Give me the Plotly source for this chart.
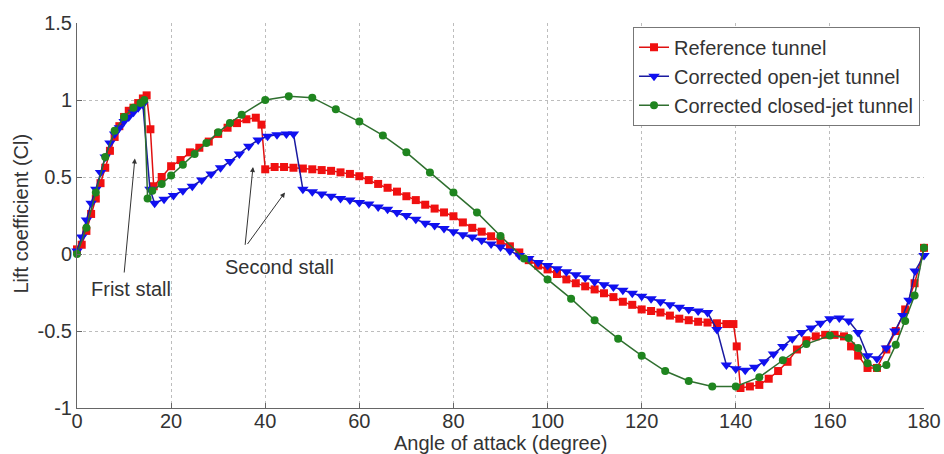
import plotly.graph_objects as go

# ---------------- data ----------------
ref_x = [0, 1, 2, 3, 4, 5, 6, 7, 8, 9, 10, 11, 12, 13, 14, 14.8, 15.6, 16.3,
         18, 20, 22, 24, 26, 28, 30, 32, 34, 36, 38, 39.2,
         40, 42, 44, 46, 48, 50, 52, 54, 56, 58, 60, 62, 64, 66, 68, 70, 72, 74, 76, 78,
         80, 82, 84, 86, 88, 90, 92, 94, 96, 98, 100, 102, 104, 106, 108, 110, 112, 114,
         116, 118, 120, 122, 124, 126, 128, 130, 132, 134, 136, 138, 139.5, 140.2, 141,
         143, 145, 147, 149, 151, 153, 155, 157, 159, 161, 163, 164.5, 166, 168, 170,
         172, 174, 176, 178, 180]
ref_y = [0.03, 0.06, 0.15, 0.26, 0.36, 0.46, 0.56, 0.67, 0.76, 0.83, 0.89, 0.93, 0.95, 0.98, 1.01, 1.03, 0.81, 0.44,
         0.50, 0.57, 0.61, 0.66, 0.69, 0.73, 0.78, 0.82, 0.85, 0.875, 0.885, 0.84,
         0.55, 0.565, 0.565, 0.56, 0.555, 0.55, 0.545, 0.54, 0.53, 0.52, 0.505, 0.48, 0.455, 0.43, 0.405, 0.375, 0.35, 0.32, 0.295, 0.27,
         0.245, 0.205, 0.17, 0.145, 0.115, 0.085, 0.05, 0.01, -0.04, -0.075, -0.10, -0.13, -0.165, -0.19, -0.21, -0.23, -0.255, -0.28,
         -0.31, -0.33, -0.36, -0.37, -0.38, -0.40, -0.42, -0.43, -0.44, -0.445, -0.45, -0.455, -0.455, -0.60, -0.87,
         -0.86, -0.85, -0.81, -0.76, -0.70, -0.62, -0.56, -0.535, -0.525, -0.525, -0.535, -0.60, -0.66, -0.74, -0.74,
         -0.62, -0.50, -0.36, -0.19, 0.04]

open_x = [0, 1, 2, 3, 4, 5, 6, 7, 8, 9, 10, 11, 12, 13, 14, 15.5, 16.5,
          18.5, 20.5, 22.5, 24.5, 26.5, 28.5, 30.5, 32.5, 34.5, 36.5, 38.5, 40.5, 42.5, 44.5, 46,
          48, 50, 52, 54, 56, 58, 60, 62, 64, 66, 68, 70, 72, 74, 76, 78, 80, 82, 84, 86, 88, 90,
          92, 94, 96, 98, 100, 102, 104, 106, 108, 110, 112, 114, 116, 118, 120, 122, 124, 126,
          128, 130, 132, 134, 136, 138, 140, 142, 144, 146, 148, 150, 152, 154, 156, 158, 160,
          162, 164, 166, 168, 170, 172, 173.8, 175.5, 176.8, 178.1, 180]
open_y = [0.02, 0.11, 0.22, 0.33, 0.42, 0.53, 0.63, 0.72, 0.78, 0.82, 0.86, 0.89, 0.92, 0.95, 0.97, 0.42, 0.33,
          0.355, 0.38, 0.41, 0.44, 0.48, 0.52, 0.56, 0.60, 0.65, 0.70, 0.74, 0.765, 0.775, 0.78, 0.78,
          0.42, 0.405, 0.39, 0.375, 0.36, 0.35, 0.335, 0.325, 0.305, 0.29, 0.27, 0.25, 0.225, 0.20, 0.185, 0.165, 0.145, 0.125, 0.11, 0.09, 0.065, 0.045,
          0.02, -0.01, -0.03, -0.055, -0.075, -0.095, -0.115, -0.135, -0.155, -0.18, -0.20, -0.215, -0.235, -0.255, -0.275, -0.29, -0.31, -0.33,
          -0.345, -0.36, -0.37, -0.38, -0.49, -0.72, -0.745, -0.755, -0.735, -0.70, -0.65, -0.60, -0.55, -0.51, -0.48, -0.45, -0.42,
          -0.415, -0.435, -0.51, -0.66, -0.68, -0.61, -0.50, -0.40, -0.30, -0.11, -0.01]

closed_x = [0, 2, 4, 6, 8, 10, 12, 13.5, 14.3, 15, 16, 18, 20, 22.5, 25, 27.5, 30, 32.5, 35,
            40, 45, 50, 55, 60, 65, 70, 75, 80, 85, 90, 95, 100, 105, 110, 115, 120, 125, 130,
            135, 140, 145, 150, 155, 160, 164, 166, 168, 170, 172, 174, 176, 178, 180]
closed_y = [0.0, 0.17, 0.40, 0.63, 0.80, 0.89, 0.95, 0.98, 1.0, 0.36, 0.41, 0.455, 0.51, 0.58, 0.65, 0.72, 0.79, 0.85, 0.905,
            1.0, 1.025, 1.015, 0.94, 0.86, 0.77, 0.66, 0.53, 0.40, 0.27, 0.117, -0.03, -0.165, -0.29, -0.43, -0.55, -0.66, -0.76, -0.825,
            -0.86, -0.86, -0.80, -0.69, -0.585, -0.53, -0.545, -0.61, -0.71, -0.74, -0.72, -0.59, -0.435, -0.27, 0.04]

x_ticks = [0, 20, 40, 60, 80, 100, 120, 140, 160, 180]
y_ticks = [-1, -0.5, 0, 0.5, 1, 1.5]
y_tick_labels = ["-1", "-0.5", "0", "0.5", "1", "1.5"]

names = ["Reference tunnel", "Corrected open-jet tunnel", "Corrected closed-jet tunnel"]

# ---------------- figure ----------------
FONT = "Liberation Sans, Arial, Helvetica, sans-serif"
fig = go.Figure()

fig.add_trace(go.Scatter(
    x=ref_x, y=ref_y, name=names[0], mode="lines+markers", cliponaxis=False,
    line=dict(color="#e01010", width=1.5),
    marker=dict(symbol="square", size=8, color="#f01010")))
fig.add_trace(go.Scatter(
    x=open_x, y=open_y, name=names[1], mode="lines+markers", cliponaxis=False,
    line=dict(color="#1a1aa0", width=1.5),
    marker=dict(symbol="triangle-down", size=10, color="#1010f0")))
fig.add_trace(go.Scatter(
    x=closed_x, y=closed_y, name=names[2], mode="lines+markers", cliponaxis=False,
    line=dict(color="#2f6f2f", width=1.5),
    marker=dict(symbol="circle", size=8, color="#1f851f")))

axis_common = dict(
    showline=True, linecolor="#666666", linewidth=1, mirror=False,
    ticks="inside", ticklen=5, tickcolor="#666666", tickwidth=1,
    showgrid=True, gridcolor="#bdbdbd", griddash="dot", gridwidth=1,
    zeroline=False, tickfont=dict(family=FONT, size=20, color="#333333"),
)

fig.update_xaxes(range=[0, 180], tickvals=x_ticks, ticklabelstandoff=-5, **axis_common)
fig.update_yaxes(range=[-1, 1.5], tickvals=y_ticks, ticktext=y_tick_labels, **axis_common)

arrow = dict(showarrow=True, arrowhead=2, arrowsize=1, arrowwidth=1, arrowcolor="#333333",
             axref="x", ayref="y", xref="x", yref="y", text="", standoff=0, startstandoff=0)

annotations = [
    dict(x=12.3, y=0.62, ax=10.0, ay=-0.13, **arrow),
    dict(x=37.4, y=0.565, ax=35.7, ay=0.05, **arrow),
    dict(x=44.2, y=0.40, ax=36.0, ay=0.055, **arrow),
    dict(x=2.5, y=-0.227, xref="x", yref="y", text="Frist stall", showarrow=False,
         xanchor="left", yanchor="middle", font=dict(family=FONT, size=20, color="#333333")),
    dict(x=31.0, y=-0.085, xref="x", yref="y", text="Second stall", showarrow=False,
         xanchor="left", yanchor="middle", font=dict(family=FONT, size=20, color="#333333")),
    dict(x=0.5, y=-0.091, xref="paper", yref="paper", text="Angle of attack (degree)",
         showarrow=False, xanchor="center", yanchor="middle",
         font=dict(family=FONT, size=20, color="#333333")),
    dict(x=-0.0661, y=0.505, xref="paper", yref="paper", text="Lift coefficient (Cl)",
         showarrow=False, textangle=-90, xanchor="center", yanchor="middle",
         font=dict(family=FONT, size=20, color="#333333")),
]

fig.update_layout(
    width=944, height=454,
    margin=dict(l=77, r=20, t=23, b=46, pad=0, autoexpand=False),
    paper_bgcolor="white", plot_bgcolor="white",
    font=dict(family=FONT, size=20, color="#333333"),
    showlegend=True,
    legend=dict(x=0.9953, y=0.99, xanchor="right", yanchor="top",
                bgcolor="white", bordercolor="#777777", borderwidth=1,
                font=dict(family=FONT, size=20, color="#333333"),
                itemwidth=30, tracegroupgap=0),
    annotations=annotations,
)

fig.write_html("out.html")
